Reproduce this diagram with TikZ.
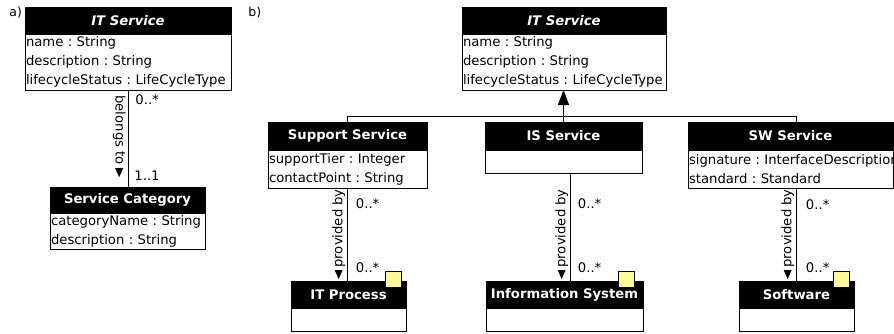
\documentclass[tikz,border=0pt]{standalone}
\usepackage{fontspec}
\setmainfont{DejaVu Sans}
\frenchspacing
\hyphenpenalty=10000
\exhyphenpenalty=10000
\usetikzlibrary{positioning,arrows.meta}
\tikzset{
  classhead/.style={draw, fill=black, text=white, font=\fontsize{13.2}{19}\selectfont\bfseries, inner sep=0pt, outer sep=0pt, minimum height=27pt, anchor=north west},
  classbody/.style={draw, fill=white, font=\fontsize{13.2}{19}\selectfont, inner xsep=1pt, inner ysep=0pt, outer sep=0pt, align=left},
  mult/.style={font=\fontsize{13.2}{19}\selectfont, inner sep=0pt},
  rolename/.style={font=\fontsize{13.2}{19}\selectfont, inner sep=0pt},
  readdir/.style={fill=black},
  notebox/.style={draw, fill=yellow!40, minimum size=16pt, inner sep=0pt},
  gen/.style={-{Triangle[length=15pt,width=11pt]}},
  partlabel/.style={font=\fontsize{12.5}{14}\selectfont, inner sep=0pt, anchor=north west}
}
\begin{document}
\begin{tikzpicture}[x=1pt,y=-1pt,line width=0.9pt]
	\useasboundingbox (0,0) rectangle (894,333);
	\node [partlabel] (labA) at (9,7) {a)};
	\node [partlabel] (labB) at (248,7) {b)};
	% a) IT Service and Service Category
	\node [classhead, minimum width=206pt, font=\fontsize{13.2}{19}\selectfont\bfseries\itshape] (itsA) at (25,7) {IT Service};
	\node [classbody, below=0pt of itsA, text width=204pt, minimum height=56pt] (itsAattr) {name : String\\description : String\\lifecycleStatus~:~LifeCycleType};
	\node [classhead, minimum width=155pt, minimum height=26pt] (catA) at (50,187) {Service Category};
	\node [classbody, below=0pt of catA, text width=153pt, minimum height=36pt] (catAattr) {categoryName~:~String\\description : String};
	% belongs to
	\draw (itsAattr.south) -- (itsAattr.south |- catA.north);
	\node [mult, anchor=north west] (mA1) at ([shift={(7,4)}]itsAattr.south) {0..*};
	\node [mult, anchor=south west] (mA2) at ([shift={(6,-6)}]itsAattr.south |- catA.north) {1..1};
	\node [rolename, rotate=-90, anchor=north west] (belongs) at ([shift={(-2,5)}]itsAattr.south) {belongs to};
	\fill [readdir] ([shift={(-4,3)}]belongs.east) -- ++(8,0) -- ++(-4,9) -- cycle;
	% b) IT Service and its kinds
	\node [classhead, minimum width=204pt, font=\fontsize{13.2}{19}\selectfont\bfseries\itshape] (itsB) at (462,7) {IT Service};
	\node [classbody, below=0pt of itsB, text width=202pt, minimum height=56pt] (itsBattr) {name : String\\description : String\\lifecycleStatus~:~LifeCycleType};
	\node [classhead, minimum width=159pt, minimum height=28pt] (supS) at (268,122) {Support Service};
	\node [classbody, below=0pt of supS, text width=157pt, minimum height=38pt] (supSattr) {supportTier : Integer\\contactPoint : String};
	\node [classhead, minimum width=157pt, minimum height=28pt] (isS) at (485,122) {IS Service};
	\node [classbody, below=0pt of isS, text width=155pt, minimum height=23pt] (isSattr) {};
	\node [classhead, minimum width=205pt, minimum height=28pt] (swS) at (688,122) {SW Service};
	\node [classbody, below=0pt of swS, text width=203pt, minimum height=38pt] (swSattr) {signature~:~InterfaceDescription\\standard : Standard};
	% providers
	\node [classhead, minimum width=115pt] (proc) at (291,281) {IT Process};
	\node [classbody, below=0pt of proc, text width=113pt, minimum height=23pt] (procattr) {};
	\node [classhead, minimum width=157pt] (infoSys) at (486,281) {Information System};
	\node [classbody, below=0pt of infoSys, text width=155pt, minimum height=23pt] (infoSysattr) {};
	\node [classhead, minimum width=115pt] (sw) at (739,281) {Software};
	\node [classbody, below=0pt of sw, text width=113pt, minimum height=23pt] (swattr) {};
	\node [notebox] (procNote) at ([shift={(-13,-2)}]proc.north east) {};
	\node [notebox] (infoSysNote) at ([shift={(-17,-2)}]infoSys.north east) {};
	\node [notebox] (swNote) at ([shift={(-13,-2)}]sw.north east) {};
	% generalization
	\coordinate (bus) at ([yshift=6pt]supS.north);
	\draw (supS.north) -- (bus) -- (bus -| sw.north) -- (sw.north |- swS.north);
	\draw [gen] (isS.north) -- (isS.north |- itsBattr.south);
	% provided by: Support Service
	\coordinate (supT) at (supSattr.south);
	\coordinate (supB) at (supT |- proc.north);
	\draw (supT) -- (supB);
	\node [mult, anchor=north west] (mS1) at ([shift={(8,10)}]supT) {0..*};
	\node [mult, anchor=south west] (mS2) at ([shift={(8,-8)}]supB) {0..*};
	\node [rolename, rotate=90, anchor=south west] (provS) at ([shift={(-2,-13)}]supB) {provided by};
	\fill [readdir] ([shift={(-4,2)}]provS.west) -- ++(8,0) -- ++(-4,9) -- cycle;
	% provided by: IS Service
	\coordinate (isT) at ([xshift=7pt]isSattr.south);
	\coordinate (isB) at (isT |- infoSys.north);
	\draw (isT) -- (isB);
	\node [mult, anchor=north west] (mI1) at ([shift={(7,25)}]isT) {0..*};
	\node [mult, anchor=south west] (mI2) at ([shift={(7,-8)}]isB) {0..*};
	\node [rolename, rotate=90, anchor=south west] (provI) at ([shift={(-2,-13)}]isB) {provided by};
	\fill [readdir] ([shift={(-4,2)}]provI.west) -- ++(8,0) -- ++(-4,9) -- cycle;
	% provided by: SW Service
	\coordinate (swT) at (sw.north |- swSattr.south);
	\draw (swT) -- (sw.north);
	\node [mult, anchor=north west] (mW1) at ([shift={(9,11)}]swT) {0..*};
	\node [mult, anchor=south west] (mW2) at ([shift={(9,-8)}]sw.north) {0..*};
	\node [rolename, rotate=90, anchor=south west] (provW) at ([shift={(-2,-13)}]sw.north) {provided by};
	\fill [readdir] ([shift={(-4,2)}]provW.west) -- ++(8,0) -- ++(-4,9) -- cycle;
\end{tikzpicture}
\end{document}
